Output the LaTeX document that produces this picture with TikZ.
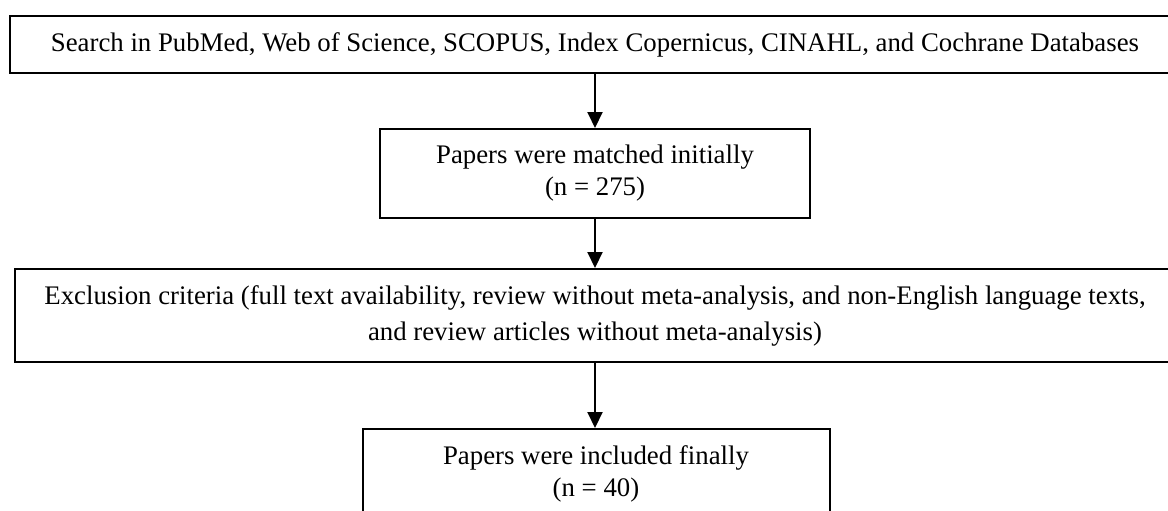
\documentclass[tikz,border=0pt]{standalone}
\usepackage{fontspec}
\setmainfont{Liberation Serif}
\usetikzlibrary{arrows.meta}

\tikzset{
  stagebox/.style={draw, line width=1pt, rectangle, inner sep=0pt, align=center,
    font=\fontsize{13.4}{16}\selectfont},
  flowarrow/.style={line width=1pt, -{Triangle[length=8pt,width=7.5pt]}}
}

\begin{document}
\begin{tikzpicture}[x=0.5pt, y=-0.5pt]
\useasboundingbox (0, 0) rectangle (1168, 510);

\node [stagebox, anchor=north, minimum width=585pt, minimum height=28.5pt] (search) at (595, 15)
      {Search in PubMed, Web of Science, SCOPUS, Index Copernicus, CINAHL, and Cochrane Databases};
\node [stagebox, anchor=north, minimum width=215pt, minimum height=44.5pt] (matched) at (595, 128)
      {Papers were matched initially\\(n = 275)};
\node [stagebox, anchor=north, minimum width=580pt, minimum height=46.5pt,
       font=\fontsize{13.4}{18}\selectfont] (exclusion) at (595, 268)
      {Exclusion criteria (full text availability, review without meta-analysis, and non-English language texts,\\
       and review articles without meta-analysis)};
\node [stagebox, anchor=north, minimum width=233.5pt, minimum height=44.5pt] (included) at (596, 428)
      {Papers were included finally\\(n = 40)};

\draw [flowarrow] (search.south -| matched.north) -- (matched.north);
\draw [flowarrow] (matched) -- (exclusion.north -| matched.south);
\draw [flowarrow] (exclusion.south -| matched.south) -- (included.north -| matched.south);
\end{tikzpicture}
\end{document}
